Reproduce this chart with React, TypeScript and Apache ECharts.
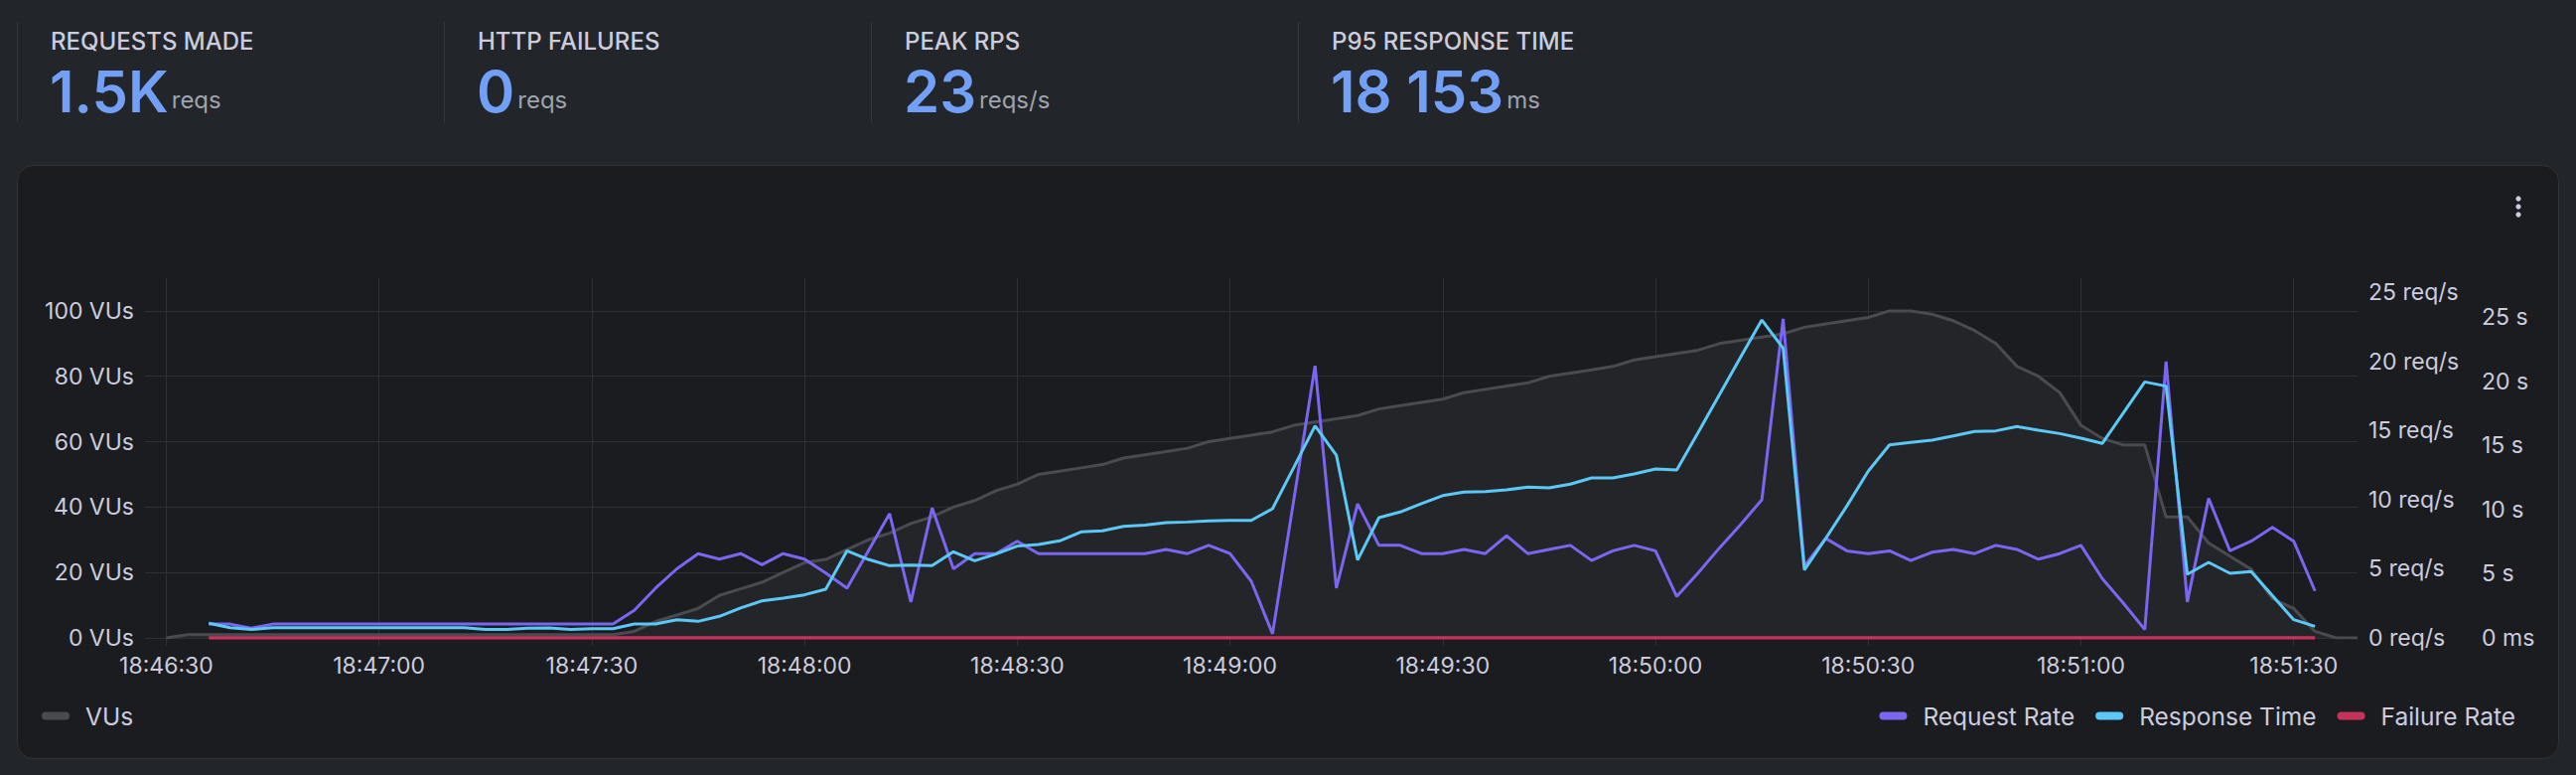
import React, { useEffect, useRef } from 'react';
import * as echarts from 'echarts';

// ---------- DATA ----------
const statLabels = ['REQUESTS MADE', 'HTTP FAILURES', 'PEAK RPS', 'P95 RESPONSE TIME'];
const statValues = ['1.5K', '0', '23', '18 153'];
const statUnits = ['reqs', 'reqs', 'reqs/s', 'ms'];

const timeStart = '18:46:27';
const timeStepSec = 3;
const timeCount = 105;

// VUs from 18:46:30 (index 1)
const vusOffset = 1;
const vus = [
  0, 1, 1, 1, 1, 1, 1, 1, 1, 1, 1, 1, 1, 1, 1, 1, 1, 1, 1, 1, 1, 1,
  2, 5, 7, 9, 13, 15, 17, 20, 23, 24, 27, 30, 32, 35, 37, 40, 42, 45, 47,
  50, 51, 52, 53, 55, 56, 57, 58, 60, 61, 62, 63, 65, 66, 67, 68, 70, 71, 72, 73, 75,
  76, 77, 78, 80, 81, 82, 83, 85, 86, 87, 88, 90, 91, 92, 93, 95, 96, 97, 98, 100, 100,
  99, 97, 94, 90, 83, 80, 75, 65, 61, 59, 59, 37, 37, 29, 25, 21, 12, 9, 2, 0, 0,
];

// Request-based series from 18:46:36 (index 3)
const reqOffset = 3;
const requestRate = [
  1.0, 1.0, 0.7, 1.0, 1.0, 1.0, 1.0, 1.0, 1.0, 1.0, 1.0, 1.0, 1.0, 1.0, 1.0, 1.0, 1.0, 1.0, 1.0, 1.0,
  2.0, 3.6, 5.0, 6.1, 5.7, 6.1, 5.3, 6.1, 5.7, 4.7, 3.6, 6.3, 9.0, 2.6, 9.4, 5.0, 6.1, 6.1, 7.0,
  6.1, 6.1, 6.1, 6.1, 6.1, 6.1, 6.4, 6.1, 6.7, 6.1, 4.1, 0.3, 10.0, 19.7, 3.6, 9.7, 6.7, 6.7, 6.1, 6.1, 6.4,
  6.1, 7.4, 6.1, 6.4, 6.7, 5.6, 6.3, 6.7, 6.3, 3.0, 4.7, 6.5, 8.2, 10.0, 23.1, 5.2, 7.2, 6.3, 6.1, 6.3, 5.6,
  6.2, 6.4, 6.1, 6.7, 6.4, 5.7, 6.1, 6.7, 4.3, 2.5, 0.6, 20.0, 2.6, 10.1, 6.3, 7.0, 8.0, 7.0, 3.4,
];
const responseTime = [
  1.15, 0.8, 0.65, 0.8, 0.8, 0.8, 0.8, 0.8, 0.8, 0.8, 0.8, 0.8, 0.8, 0.65, 0.65, 0.75, 0.78, 0.65, 0.72, 0.72,
  1.09, 1.09, 1.42, 1.29, 1.68, 2.33, 2.89, 3.1, 3.36, 3.8, 6.8, 6.12, 5.63, 5.68, 5.63, 6.72, 6.02, 6.54, 7.16,
  7.29, 7.57, 8.27, 8.35, 8.7, 8.79, 8.99, 9.04, 9.12, 9.17, 9.17, 10.08, 13.3, 16.54, 14.26, 6.07, 9.38, 9.82, 10.47, 11.1, 11.37,
  11.42, 11.55, 11.76, 11.7, 12.0, 12.48, 12.48, 12.79, 13.18, 13.1, 16.0, 18.95, 21.9, 24.8, 22.6, 5.3, 7.75, 10.3, 13.0, 15.06, 15.25,
  15.43, 15.76, 16.1, 16.15, 16.49, 16.2, 15.94, 15.58, 15.17, 17.57, 19.97, 19.64, 4.96, 5.89, 5.04, 5.17, 3.3, 1.42, 0.9,
];
const failureRate = [
  0, 0, 0, 0, 0, 0, 0, 0, 0, 0, 0, 0, 0, 0, 0, 0, 0, 0, 0, 0,
  0, 0, 0, 0, 0, 0, 0, 0, 0, 0, 0, 0, 0, 0, 0, 0, 0, 0, 0, 0,
  0, 0, 0, 0, 0, 0, 0, 0, 0, 0, 0, 0, 0, 0, 0, 0, 0, 0, 0, 0,
  0, 0, 0, 0, 0, 0, 0, 0, 0, 0, 0, 0, 0, 0, 0, 0, 0, 0, 0, 0,
  0, 0, 0, 0, 0, 0, 0, 0, 0, 0, 0, 0, 0, 0, 0, 0, 0, 0, 0, 0,
];

const vuAxisMax = 110;
const rpsAxisMax = 26.04;
const rtAxisMax = 28.06;

// ---------- HELPERS ----------
const pad = (n: number) => (n < 10 ? '0' + n : '' + n);
function buildTimes(): string[] {
  const [h, m, s] = timeStart.split(':').map(Number);
  const base = h * 3600 + m * 60 + s;
  const out: string[] = [];
  for (let k = 0; k < timeCount; k++) {
    const t = base + k * timeStepSec;
    out.push(`${pad(Math.floor(t / 3600))}:${pad(Math.floor((t % 3600) / 60))}:${pad(t % 60)}`);
  }
  return out;
}
const times = buildTimes();
const isMajor = (_i: number, v: string) => v.endsWith(':00') || v.endsWith(':30');

const FONT = 'Inter, "Noto Sans", sans-serif';
const TXT = '#ccccdc';
const GRID = '#2d3035';
const BLUE = '#73a0f7';
const UNIT = '#9fa3ab';

function textWidth(text: string, font: string): number {
  const ctx = document.createElement('canvas').getContext('2d');
  if (!ctx) return text.length * 30;
  ctx.font = font;
  return ctx.measureText(text).width;
}

const pill = 'path://M4,0 H24 A4,4 0 0 1 24,8 H4 A4,4 0 0 1 4,0 Z';

function buildOption(): any {
  const graphic: any[] = [];
  graphic.push({
    type: 'rect', z: -5, silent: true,
    shape: { x: 17.5, y: 166.5, width: 2559, height: 597, r: 16 },
    style: { fill: '#1b1c20', stroke: '#303338', lineWidth: 1 },
  });
  const valueFont = `600 58px ${FONT}`;
  statLabels.forEach((lab, k) => {
    const x0 = 17 + k * 430;
    graphic.push({
      type: 'line', silent: true,
      shape: { x1: x0 + 0.5, y1: 22, x2: x0 + 0.5, y2: 123 },
      style: { stroke: '#34373c', lineWidth: 1 },
    });
    graphic.push({
      type: 'text', x: x0 + 34, y: 41,
      style: { text: lab, fill: TXT, fontSize: 24, fontFamily: FONT, fontWeight: 500, align: 'left', verticalAlign: 'middle' },
    });
    graphic.push({
      type: 'text', x: x0 + 33, y: 92,
      style: { text: statValues[k], fill: BLUE, fontSize: 58, fontFamily: FONT, fontWeight: 600, align: 'left', verticalAlign: 'middle' },
    });
    const w = textWidth(statValues[k], valueFont);
    graphic.push({
      type: 'text', x: x0 + 33 + w + 3, y: 112,
      style: { text: statUnits[k], fill: UNIT, fontSize: 24, fontFamily: FONT, fontWeight: 400, align: 'left', verticalAlign: 'bottom' },
    });
  });
  [200, 208, 216].forEach((cy) => {
    graphic.push({ type: 'circle', silent: true, shape: { cx: 2536, cy, r: 2.6 }, style: { fill: TXT } });
  });

  const legendText = { color: TXT, fontSize: 24.5, fontFamily: FONT, padding: [0, 0, 0, 11] };

  return {
    animation: false,
    backgroundColor: '#22252a',
    textStyle: { fontFamily: FONT },
    graphic,
    grid: { left: 146, right: 220, top: 280, bottom: 138, containLabel: false },
    legend: [
      {
        data: ['VUs'], left: 42, top: 708, padding: 0, icon: pill, itemWidth: 28, itemHeight: 8,
        selectedMode: false, itemStyle: { borderWidth: 0 }, textStyle: legendText,
      },
      {
        data: ['Request Rate', 'Response Time', 'Failure Rate'], right: 61, top: 708, padding: 0,
        icon: pill, itemWidth: 28, itemHeight: 8, itemGap: 21, selectedMode: false,
        itemStyle: { borderWidth: 0 }, textStyle: legendText,
      },
    ],
    xAxis: {
      type: 'category', data: times, boundaryGap: false,
      axisLine: { show: false },
      axisTick: { show: true, length: 8, interval: isMajor, lineStyle: { color: GRID } },
      axisLabel: { interval: isMajor, color: TXT, fontSize: 23, margin: 16, fontFamily: FONT },
      splitLine: { show: true, interval: isMajor, lineStyle: { color: GRID, width: 1 } },
    },
    yAxis: [
      {
        type: 'value', min: 0, max: vuAxisMax, interval: 20, position: 'left',
        axisLine: { show: false }, axisTick: { show: false },
        axisLabel: {
          color: TXT, fontSize: 23, margin: 11, fontFamily: FONT, showMaxLabel: false,
          formatter: (v: number) => (v % 20 === 0 ? `${v} VUs` : ''),
        },
        splitLine: { show: true, lineStyle: { color: [GRID, GRID, GRID, GRID, GRID, GRID, 'rgba(0,0,0,0)'], width: 1 } },
      },
      {
        type: 'value', min: 0, max: rpsAxisMax, interval: 5, position: 'right',
        axisLine: { show: false }, axisTick: { show: false }, splitLine: { show: false },
        axisLabel: {
          color: TXT, fontSize: 23, margin: 11, fontFamily: FONT, showMaxLabel: false,
          formatter: (v: number) => (v % 5 === 0 ? `${v} req/s` : ''),
        },
      },
      {
        type: 'value', min: 0, max: rtAxisMax, interval: 5, position: 'right', offset: 114,
        axisLine: { show: false }, axisTick: { show: false }, splitLine: { show: false },
        axisLabel: {
          color: TXT, fontSize: 23, margin: 11, fontFamily: FONT, showMaxLabel: false,
          formatter: (v: number) => (v === 0 ? '0 ms' : v % 5 === 0 ? `${v} s` : ''),
        },
      },
    ],
    series: [
      {
        name: 'VUs', type: 'line', yAxisIndex: 0, showSymbol: false, symbol: 'none', z: 1,
        data: vus.map((v, k) => [k + vusOffset, v]),
        itemStyle: { color: '#4a4b50' },
        lineStyle: { color: '#4a4b50', width: 3 },
        areaStyle: { color: '#242529', opacity: 1 },
      },
      {
        name: 'Request Rate', type: 'line', yAxisIndex: 1, showSymbol: false, symbol: 'none', z: 3,
        data: requestRate.map((v, k) => [k + reqOffset, v]),
        itemStyle: { color: '#7a66f0' },
        lineStyle: { color: '#7a66f0', width: 3 },
      },
      {
        name: 'Response Time', type: 'line', yAxisIndex: 2, showSymbol: false, symbol: 'none', z: 4,
        data: responseTime.map((v, k) => [k + reqOffset, v]),
        itemStyle: { color: '#5bc8f6' },
        lineStyle: { color: '#5bc8f6', width: 3 },
      },
      {
        name: 'Failure Rate', type: 'line', yAxisIndex: 1, showSymbol: false, symbol: 'none', z: 5,
        data: failureRate.map((v, k) => [k + reqOffset, v]),
        itemStyle: { color: '#c5335c' },
        lineStyle: { color: '#c5335c', width: 3.5 },
      },
    ],
  };
}

export default function App() {
  const ref = useRef<HTMLDivElement>(null);
  useEffect(() => {
    if (!ref.current) return;
    const chart = echarts.init(ref.current, null, { renderer: 'svg' });
    chart.setOption(buildOption());
    return () => chart.dispose();
  }, []);
  return (
    <div
      ref={ref}
      style={{ position: 'absolute', left: 0, top: 0, width: 2594, height: 780, background: '#22252a' }}
    />
  );
}
